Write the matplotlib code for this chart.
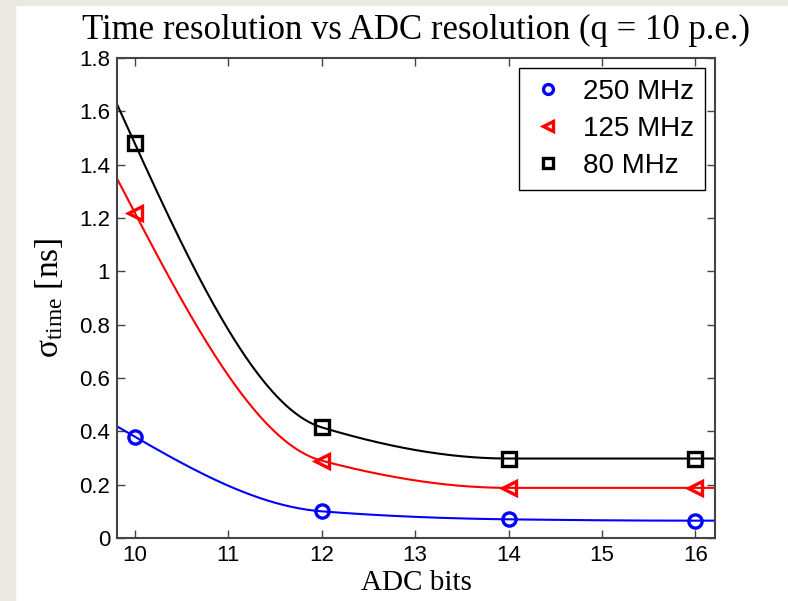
import matplotlib
matplotlib.use("Agg")
import numpy as np
import matplotlib.pyplot as plt
from matplotlib.patches import Rectangle

# measured points
bits = [10, 12, 14, 16]
sigma_250 = [0.38, 0.10, 0.070, 0.065]
sigma_125 = [1.22, 0.29, 0.188, 0.188]
sigma_80 = [1.48, 0.415, 0.298, 0.298]

labels = ["250 MHz", "125 MHz", "80 MHz"]
xticks = [10, 11, 12, 13, 14, 15, 16]
yticks = [0, 0.2, 0.4, 0.6, 0.8, 1, 1.2, 1.4, 1.6, 1.8]


def pchip_curve(x, y, xs):
    # shape preserving piecewise cubic through the points (as the original fit)
    x = np.asarray(x, float)
    y = np.asarray(y, float)
    h = np.diff(x)
    delta = np.diff(y) / h
    d = np.zeros_like(y)
    for k in range(1, len(x) - 1):
        if delta[k - 1] * delta[k] > 0:
            w1 = 2 * h[k] + h[k - 1]
            w2 = h[k] + 2 * h[k - 1]
            d[k] = (w1 + w2) / (w1 / delta[k - 1] + w2 / delta[k])
    for i, (a, b, ha, hb) in enumerate([(0, 1, h[0], h[1]), (-1, -2, h[-1], h[-2])]):
        dd = ((2 * ha + hb) * delta[a] - ha * delta[b]) / (ha + hb)
        if np.sign(dd) != np.sign(delta[a]):
            dd = 0.0
        elif np.sign(delta[a]) != np.sign(delta[b]) and abs(dd) > abs(3 * delta[a]):
            dd = 3 * delta[a]
        d[0 if i == 0 else -1] = dd
    k = np.clip(np.searchsorted(x, xs) - 1, 0, len(x) - 2)
    t = (xs - x[k]) / h[k]
    h00 = 2 * t**3 - 3 * t**2 + 1
    h10 = t**3 - 2 * t**2 + t
    h01 = -2 * t**3 + 3 * t**2
    h11 = t**3 - t**2
    return h00 * y[k] + h10 * h[k] * d[k] + h01 * y[k + 1] + h11 * h[k] * d[k + 1]


plt.rcParams['mathtext.fontset'] = 'custom'
plt.rcParams['mathtext.rm'] = 'Liberation Serif'
plt.rcParams['mathtext.it'] = 'Liberation Serif'

fig = plt.figure(figsize=(7.88, 6.01), dpi=100)
fig.patch.set_facecolor('white')
# grey window border on left and top
fig.patches.append(Rectangle((0, 0), 15 / 788, 1, transform=fig.transFigure,
                             color='#ECE9E4', zorder=0))
fig.patches.append(Rectangle((0, 1 - 5 / 601), 1, 5 / 601, transform=fig.transFigure,
                             color='#ECE9E4', zorder=0))

ax = fig.add_axes([117 / 788, 63 / 601, 598 / 788, 480 / 601])
ax.set_xlim(9.81, 16.21)
ax.set_ylim(0, 1.8)

xs = np.linspace(9.81, 16.21, 400)
series = [(sigma_250, 'blue', 'o'),
          (sigma_125, 'red', '<'),
          (sigma_80, 'black', 's')]
for (vals, col, mk), lab in zip(series, labels):
    ax.plot(xs, pchip_curve(bits, vals, xs), color=col, lw=1.5)
    ax.plot(bits, vals, ls='none', marker=mk, ms=9.5, mfc='none', mec=col,
            mew=2.4, label=lab, clip_on=False)

ax.set_xticks(xticks)
ax.set_yticks(yticks)
ax.set_xticklabels([str(t) for t in xticks], family='Liberation Sans', fontsize=16)
ax.set_yticklabels(['%g' % t for t in yticks], family='Liberation Sans', fontsize=16)
ax.tick_params(direction='in', length=6, width=1, top=True, right=True,
               color='#444444', pad=5)
for s in ax.spines.values():
    s.set_color('#444444')
    s.set_linewidth(1.5)

ax.set_title('Time resolution vs ADC resolution (q = 10 p.e.)',
             family='Liberation Serif', fontsize=25, pad=14)
ax.set_xlabel('ADC bits', family='Liberation Serif', fontsize=21, labelpad=3)
ax.set_ylabel(r'$\mathrm{\sigma}_{\mathrm{time}}$ [ns]', family='Liberation Serif',
              fontsize=24, labelpad=10)

leg = ax.legend(loc='upper right', prop={'family': 'Liberation Sans', 'size': 20},
                fancybox=False, edgecolor='black', framealpha=1, markerscale=0.75,
                handlelength=1.3, handletextpad=0.6, borderpad=0.4,
                labelspacing=0.4, borderaxespad=0.35)
leg.get_frame().set_linewidth(1.0)

fig.savefig('out.png', dpi=100)
